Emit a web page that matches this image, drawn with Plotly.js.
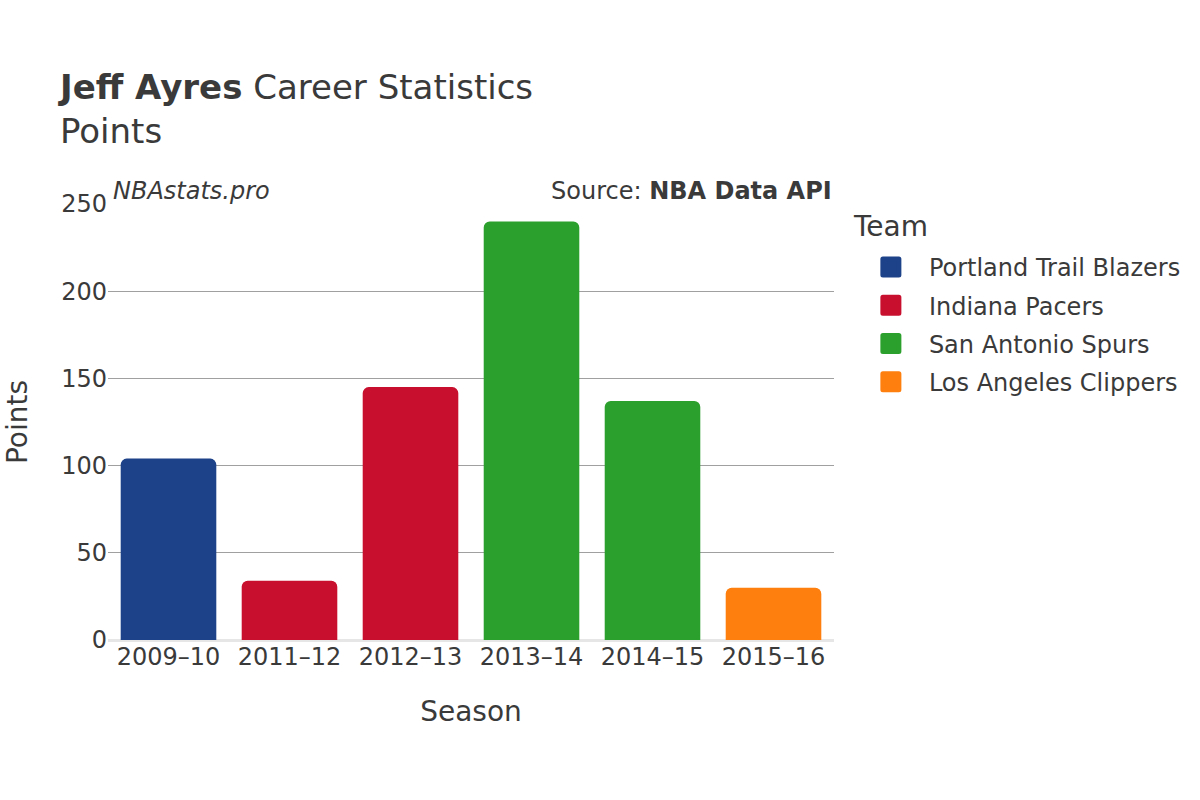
<!DOCTYPE html>
<html>
<head>
<meta charset="utf-8">
<script src="https://cdn.plot.ly/plotly-3.0.1.min.js"></script>
<style>
html,body{margin:0;padding:0;background:#fff;}
#chart{width:1200px;height:800px;}
#chart .legend .legendpoints path{stroke-linejoin:round;}
</style>
</head>
<body>
<div id="chart"></div>
<script>
const seasons = ["2009–10", "2011–12", "2012–13", "2013–14", "2014–15", "2015–16"];
const teams = ["Portland Trail Blazers", "Indiana Pacers", "San Antonio Spurs", "Los Angeles Clippers"];
const seasonTeam = ["Portland Trail Blazers", "Indiana Pacers", "Indiana Pacers", "San Antonio Spurs", "San Antonio Spurs", "Los Angeles Clippers"];
const points = [104, 34, 145, 240, 137, 30];
const teamColors = ["#1d428a", "#c8102e", "#2ca02c", "#ff7f0e"];

const textColor = "#3a3a3a";
const font = "DejaVu Sans, sans-serif";

const barTraces = teams.map((team, ti) => {
  const xs = [], ys = [];
  seasons.forEach((s, i) => {
    if (seasonTeam[i] === team) { xs.push(s); ys.push(points[i]); }
  });
  return {
    type: "bar",
    name: team,
    x: xs,
    y: ys,
    showlegend: false,
    legendgroup: team,
    marker: { color: teamColors[ti], cornerradius: 6 },
    hovertemplate: "%{x}: %{y}<extra>" + team + "</extra>"
  };
});

// legend entries (rounded-square swatches)
const legendTraces = teams.map((team, ti) => ({
  type: "scatter",
  mode: "markers",
  name: team,
  x: [null],
  y: [null],
  legendgroup: team,
  showlegend: true,
  marker: { symbol: "square", size: 16, color: teamColors[ti], line: { color: teamColors[ti], width: 5 } },
  hoverinfo: "skip"
}));

const layout = {
  width: 1200,
  height: 800,
  paper_bgcolor: "#fff",
  plot_bgcolor: "#fff",
  font: { family: font, color: textColor, size: 24 },
  margin: { l: 108, r: 366, t: 204, b: 160 },
  barmode: "relative",
  bargap: 0.21,
  title: {
    text: "<b>Jeff Ayres</b> Career Statistics<br>Points",
    x: 60 / 1200,
    xref: "container",
    xanchor: "left",
    y: 1 - 99 / 800,
    yref: "container",
    yanchor: "top",
    font: { family: font, size: 34, color: textColor }
  },
  xaxis: {
    type: "category",
    categoryorder: "array",
    categoryarray: seasons,
    title: { text: "Season", font: { size: 28, color: textColor }, standoff: 31 },
    tickfont: { size: 24, color: textColor },
    showgrid: false,
    ticks: "",
    showline: false,
    automargin: false
  },
  yaxis: {
    range: [0, 250],
    tickvals: [0, 50, 100, 150, 200, 250],
    title: { text: "Points", font: { size: 28, color: textColor }, standoff: 25 },
    tickfont: { size: 24, color: textColor },
    showgrid: true,
    gridcolor: "#a0a0a0",
    gridwidth: 1,
    ticks: "",
    zeroline: true,
    zerolinecolor: "#e6e6e6",
    zerolinewidth: 3,
    showline: false,
    automargin: false
  },
  legend: {
    font: { size: 24, color: textColor },
    x: 1.026,
    xanchor: "left",
    y: 0.906,
    yanchor: "top",
    tracegroupgap: 4,
    itemwidth: 66,
    traceorder: "grouped"
  },
  annotations: [
    {
      text: "<i>NBAstats.pro</i>",
      xref: "paper", yref: "paper",
      x: 0, y: 1,
      xanchor: "left", yanchor: "bottom",
      xshift: 3, yshift: -3,
      showarrow: false,
      font: { size: 24, color: textColor }
    },
    {
      text: "Source: <b>NBA Data API</b>",
      xref: "paper", yref: "paper",
      x: 1, y: 1,
      xanchor: "right", yanchor: "bottom",
      yshift: -3,
      showarrow: false,
      font: { size: 24, color: textColor }
    },
    {
      text: "Team",
      xref: "paper", yref: "paper",
      x: 1.026, y: (640 - 226) / 436,
      xanchor: "left", yanchor: "middle",
      xshift: -2,
      showarrow: false,
      font: { size: 28, color: textColor }
    }
  ],
  showlegend: true
};

Plotly.newPlot("chart", barTraces.concat(legendTraces), layout, { displayModeBar: false, staticPlot: true });
</script>
</body>
</html>
